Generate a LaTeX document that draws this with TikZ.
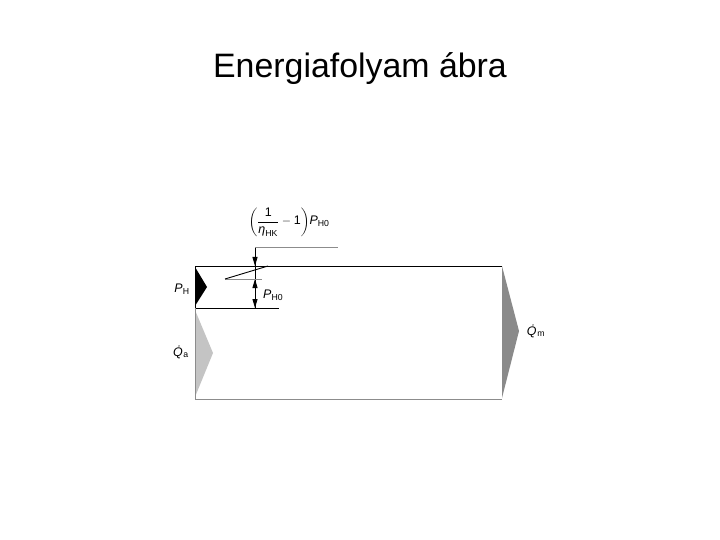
\documentclass[tikz,border=0pt]{standalone}
\usepackage{amsmath}
\usepackage{fontspec}
\setmainfont{Liberation Sans}
\usetikzlibrary{arrows.meta}
\definecolor{lightfill}{HTML}{C4C4C4}
\definecolor{darkfill}{HTML}{8A8A8A}
\definecolor{lineGray}{HTML}{8C8C8C}
\begin{document}
\begin{tikzpicture}[x=1bp,y=-1bp,
  lbl/.style={inner sep=0pt, font=\fontsize{12.5}{15}\selectfont},
  edge/.style={line width=1bp, black},
  grayedge/.style={line width=1bp, lineGray},
  tipdown/.style={-{Triangle[length=9bp,width=5bp]}, line width=0.9bp},
]
\useasboundingbox (0,0) rectangle (720,540);
\node[inner sep=0pt, font=\fontsize{34}{40}\selectfont] (title) at (360,69) {Energiafolyam ábra};

% main box corners
\coordinate (tl) at (195,266);
\coordinate (tr) at (502,266);
\coordinate (bl) at (195,399);
\coordinate (br) at (502,399);
\coordinate (bandl) at (195,308);
\coordinate (bandr) at (279,308);

% triangles
\fill[lightfill] (195,310) -- (213,353) -- (195,397) -- cycle;
\fill[darkfill] (502,266) -- (519,331) -- (502,398) -- cycle;
\fill[black] (195,267) -- (207,287) -- (195,306) -- cycle;

% box lines
\draw[edge] (tl) -- (tr);
\draw[grayedge] (bl) -- (br);
\draw[edge] (tl) -- (bandl);
\draw[edge] (bandl) -- (bandr);
\draw[grayedge, line width=0.6bp] (bandl) -- (bl);

% upper auxiliary line and dimension
\coordinate (dtop) at (255,248);
\coordinate (dend) at (338,248);
\coordinate (dmid) at (255,266);
\coordinate (dlow) at (255,279);
\coordinate (dbot) at (255,308);
\draw[grayedge] (dtop) -- (dend);
\draw[line width=0.9bp] (dtop) -- (dbot);
\draw[tipdown] (255,255) -- (dmid);
\draw[tipdown] (255,290) -- (dlow);
\draw[tipdown] (255,297) -- (dbot);

% slanted mark
\coordinate (s1) at (225,279);
\coordinate (s2) at (268,266);
\coordinate (g2) at (262,279);
\draw[grayedge] (s1) -- (g2);
\draw[line width=0.9bp] (s1) -- (s2);

% labels
\node[lbl] (ph) at (182,289) {\textit{P}\textsubscript{H}};
\node[lbl, anchor=west] (ph0) at (263,295) {\textit{P}\textsubscript{H0}};
\node[lbl] (frac) at (289,222) {$\left(\dfrac{\text{1}}{\text{\textit{η}}_{\text{HK}}}-\text{1}\right)\!\text{\textit{P}}_{\text{H0}}$};
\node[lbl] (qa) at (181,352) {\textit{\.{Q}}\textsubscript{a}};
\node[lbl] (qm) at (536,331) {\textit{\.{Q}}\textsubscript{m}};
\end{tikzpicture}
\end{document}
